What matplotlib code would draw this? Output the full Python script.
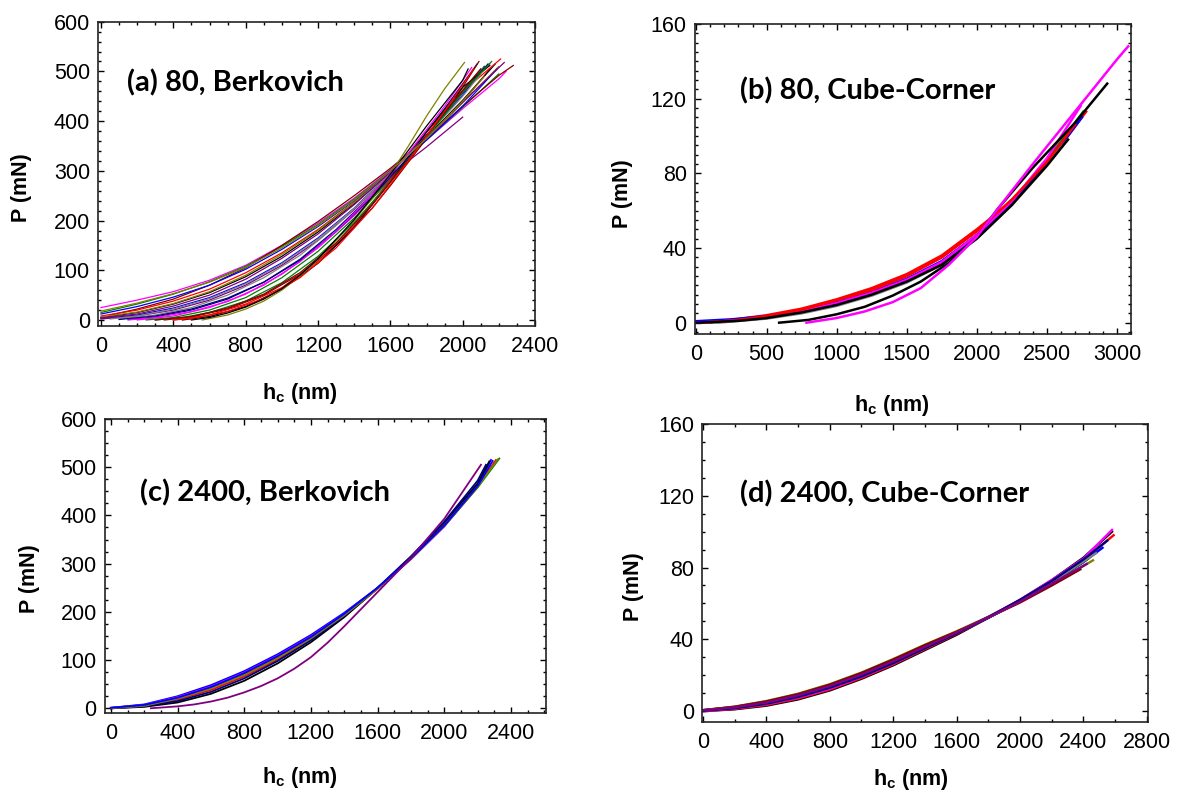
import numpy as np
import matplotlib
matplotlib.use("Agg")
import matplotlib.pyplot as plt
from matplotlib.ticker import MultipleLocator

plt.rcParams['font.family'] = ['Liberation Sans', 'DejaVu Sans']
plt.rcParams['mathtext.fontset'] = 'custom'
plt.rcParams['mathtext.rm'] = 'Liberation Sans'
plt.rcParams['mathtext.bf'] = 'Liberation Sans:bold'

## (a) 80, Berkovich  -- h in nm, P in mN
a_h = [
    [0, 200, 400, 600, 800, 1000, 1200, 1400, 1600, 1800, 2000, 2200, 2240],
    [0, 200, 400, 600, 800, 1000, 1200, 1400, 1600, 1800, 2000, 2200],
    [50, 200, 400, 600, 800, 1000, 1200, 1400, 1600, 1800, 2000, 2200, 2280],
    [0, 200, 400, 600, 800, 1000, 1200, 1400, 1600, 1800, 2000, 2150],
    [0, 200, 400, 600, 800, 1000, 1200, 1400, 1600, 1800, 2000, 2180],
    [0, 200, 400, 600, 800, 1000, 1200, 1400, 1600, 1800, 2000, 2200],
    [0, 200, 400, 600, 800, 1000, 1200, 1400, 1600, 1800, 2000, 2120],
    [0, 200, 400, 600, 800, 1000, 1200, 1400, 1600, 1800, 2000],
    [100, 300, 500, 700, 900, 1100, 1300, 1500, 1700, 1900, 2100],
    [150, 300, 500, 700, 900, 1100, 1300, 1500, 1700, 1900, 2080],
    [200, 400, 600, 800, 1000, 1200, 1400, 1600, 1800, 2000, 2150],
    [250, 400, 600, 800, 1000, 1200, 1400, 1600, 1800, 2000, 2120],
    [350, 500, 700, 900, 1100, 1300, 1500, 1600, 1800, 1950, 2090],
    [400, 600, 800, 1000, 1200, 1400, 1600, 1800, 2000, 2210],
    [450, 600, 800, 1000, 1200, 1400, 1600, 1800, 2000, 2150],
    [560, 700, 800, 900, 1000, 1100, 1200, 1300, 1400, 1500, 1600, 1700, 1800, 1900, 2010],
    [0, 200, 400, 600, 800, 1000, 1200, 1400, 1600, 1800, 2000, 2190],
    [0, 200, 400, 600, 800, 1000, 1200, 1400, 1600, 1800, 2000, 2230],
    [50, 200, 400, 600, 800, 1000, 1200, 1400, 1600, 1800, 2000, 2100],
    [100, 300, 500, 700, 900, 1100, 1300, 1500, 1700, 1900, 2140],
    [150, 300, 500, 700, 900, 1100, 1300, 1500, 1700, 1900, 2050],
    [300, 450, 600, 800, 1000, 1200, 1400, 1600, 1800, 2000, 2160],
    [300, 500, 700, 900, 1100, 1300, 1500, 1700, 1900, 2100],
    [400, 500, 700, 900, 1100, 1300, 1500, 1700, 1900, 2060],
    [500, 600, 700, 800, 900, 1000, 1100, 1200, 1400, 1600, 1800, 2000, 2030],
    [0, 200, 400, 600, 800, 1000, 1200, 1400, 1600, 1800, 2000, 2120],
]
a_P = [
    [25, 40, 57, 80, 110, 150, 195, 245, 302, 362, 425, 485, 500],
    [15, 32, 52, 77, 108, 148, 192, 243, 300, 362, 428, 495],
    [10, 22, 42, 70, 105, 150, 198, 250, 305, 365, 430, 492, 512],
    [8, 20, 38, 62, 95, 135, 182, 237, 298, 365, 438, 505],
    [5, 15, 32, 55, 87, 128, 177, 234, 298, 368, 442, 515],
    [6, 16, 33, 57, 90, 132, 180, 236, 298, 365, 437, 510],
    [3, 10, 24, 45, 75, 115, 165, 225, 295, 372, 452, 510],
    [2, 8, 20, 40, 70, 110, 160, 222, 292, 348, 408],
    [2, 10, 25, 50, 85, 130, 190, 258, 335, 420, 505],
    [1, 6, 20, 42, 76, 122, 182, 252, 333, 425, 515],
    [0, 8, 25, 52, 92, 145, 210, 285, 370, 460, 515],
    [0, 5, 20, 45, 85, 138, 205, 283, 370, 460, 510],
    [0, 6, 22, 50, 92, 150, 225, 270, 365, 440, 520],
    [0, 10, 32, 65, 118, 190, 282, 378, 460, 525],
    [0, 7, 27, 62, 114, 186, 278, 378, 468, 512],
    [0, 10, 22, 38, 60, 88, 122, 160, 200, 245, 293, 350, 410, 465, 518],
    [12, 27, 46, 70, 102, 142, 188, 240, 300, 362, 430, 505],
    [4, 12, 28, 50, 82, 124, 173, 232, 297, 366, 438, 518],
    [2, 8, 22, 43, 73, 113, 163, 224, 294, 370, 450, 495],
    [1, 8, 22, 44, 76, 120, 178, 248, 327, 415, 515],
    [0, 5, 17, 37, 70, 117, 178, 252, 336, 430, 508],
    [0, 5, 15, 38, 75, 128, 196, 278, 368, 458, 520],
    [0, 7, 24, 52, 95, 155, 232, 322, 418, 505],
    [0, 3, 17, 43, 85, 145, 225, 320, 420, 505],
    [0, 5, 14, 26, 42, 63, 90, 123, 202, 293, 390, 482, 505],
    [18, 34, 53, 76, 106, 145, 190, 241, 300, 365, 440, 490],
]

## (b) 80, Cube-Corner
b_h = [
    [0, 250, 500, 750, 1000, 1250, 1500, 1750, 2000, 2200, 2360],
    [0, 250, 500, 750, 1000, 1250, 1500, 1750, 2000, 2250, 2500, 2780],
    [0, 250, 500, 750, 1000, 1250, 1500, 1750, 2000, 2250, 2500, 2750],
    [100, 250, 500, 750, 1000, 1250, 1500, 1750, 2000, 2250, 2500, 2760],
    [150, 500, 750, 1000, 1250, 1500, 1750, 2000, 2250, 2500, 2650],
    [0, 250, 500, 750, 1000, 1250, 1500, 1750, 2000, 2250, 2480],
    [0, 250, 500, 750, 1000, 1250, 1500, 1750, 2000, 2250, 2500, 2740],
    [50, 300, 500, 750, 1000, 1250, 1500, 1750, 2000, 2250, 2500, 2700],
    [0, 300, 500, 750, 1000, 1250, 1500, 1750, 2000, 2250, 2500, 2650],
    [590, 800, 1000, 1200, 1400, 1600, 1800, 2000, 2150, 2400, 2700, 2930],
    [785, 1000, 1200, 1400, 1600, 1800, 2000, 2150, 2400, 2700, 3000, 3080],
]
b_P = [
    [0, 1.5, 4, 7.5, 12.5, 18.5, 26, 36, 50, 62, 73],
    [0, 1.2, 3.5, 7, 12, 17.5, 25, 35, 49, 65, 85, 113],
    [0.8, 1.8, 3.5, 6.5, 11, 16.5, 23.5, 33, 47, 64, 85, 110],
    [0, 0.8, 2.5, 5.5, 9.5, 15, 22, 31.5, 46, 64, 87, 113],
    [0, 2.2, 5, 9, 14.5, 21.5, 31, 45, 63, 86, 98],
    [0, 1.2, 3, 6, 10.5, 16, 23, 32.5, 46.5, 64, 84],
    [0, 1, 3, 6, 10.5, 16, 23, 32.5, 47, 65, 88, 116],
    [0, 1.5, 3.5, 7, 12, 17.5, 25, 35, 49, 66, 86, 106],
    [0, 1, 2.5, 5.5, 9.5, 15, 22, 31, 45, 63, 84, 98],
    [0, 1.5, 4.5, 8.5, 14.5, 22, 32, 46, 61, 83, 107, 128],
    [0, 2.5, 6, 11, 18.5, 31, 46, 61, 85, 113, 141, 148],
]

## (c) 2400, Berkovich
c_h = [
    [0, 200, 400, 600, 800, 1000, 1200, 1400, 1600, 1800, 2000, 2200, 2280],
    [0, 200, 400, 600, 800, 1000, 1200, 1400, 1600, 1800, 2000, 2200, 2300],
    [0, 200, 400, 600, 800, 1000, 1200, 1400, 1600, 1800, 2000, 2200, 2330],
    [0, 200, 400, 600, 800, 1000, 1200, 1400, 1600, 1800, 2000, 2200, 2310],
    [0, 200, 400, 600, 800, 1000, 1200, 1400, 1600, 1800, 2000, 2200, 2270],
    [0, 200, 400, 600, 800, 1000, 1200, 1400, 1600, 1800, 2000, 2200, 2250],
    [0, 200, 400, 600, 800, 1000, 1200, 1400, 1600, 1800, 2000, 2200, 2320],
    [0, 200, 400, 600, 800, 1000, 1200, 1400, 1600, 1800, 2000, 2200, 2290],
    [240, 400, 500, 600, 700, 800, 900, 1000, 1100, 1200, 1300, 1400, 1600, 1800, 2000, 2220],
]
c_P = [
    [1, 8, 25, 48, 77, 112, 152, 198, 250, 310, 378, 462, 515],
    [1, 7, 23, 45, 74, 109, 149, 196, 249, 309, 377, 459, 510],
    [1, 6, 21, 42, 71, 106, 147, 195, 249, 310, 378, 458, 518],
    [0, 5, 18, 38, 66, 101, 143, 192, 248, 311, 380, 461, 515],
    [0, 3, 12, 30, 57, 93, 137, 189, 249, 314, 385, 466, 512],
    [0, 4, 15, 34, 62, 98, 141, 191, 250, 315, 387, 472, 505],
    [0, 5, 20, 41, 69, 104, 145, 193, 248, 310, 379, 460, 516],
    [1, 7, 22, 44, 73, 108, 148, 196, 250, 311, 379, 461, 513],
    [0, 4, 8, 14, 22, 33, 46, 62, 82, 106, 136, 170, 241, 312, 393, 505],
]

## (d) 2400, Cube-Corner
d_h = [
    [0, 200, 400, 600, 800, 1000, 1200, 1400, 1600, 1800, 2000, 2200, 2400, 2580],
    [0, 200, 400, 600, 800, 1000, 1200, 1400, 1600, 1800, 2000, 2200, 2400, 2590],
    [0, 200, 400, 600, 800, 1000, 1200, 1400, 1600, 1800, 2000, 2200, 2400, 2580],
    [0, 200, 400, 600, 800, 1000, 1200, 1400, 1600, 1800, 2000, 2200, 2400, 2520],
    [0, 200, 400, 600, 800, 1000, 1200, 1400, 1600, 1800, 2000, 2200, 2430],
    [0, 200, 400, 600, 800, 1000, 1200, 1400, 1600, 1800, 2000, 2200, 2460],
    [0, 200, 400, 600, 800, 1000, 1200, 1400, 1600, 1800, 2000, 2200, 2380],
    [0, 200, 400, 600, 800, 1000, 1200, 1400, 1600, 1800, 2000, 2200, 2400, 2480],
    [0, 200, 400, 600, 800, 1000, 1200, 1400, 1600, 1800, 2000, 2200, 2400, 2550],
    [0, 200, 400, 600, 800, 1000, 1200, 1400, 1600, 1800, 2000, 2200, 2420],
]
d_P = [
    [0, 1, 3, 6.5, 11.5, 18, 25.5, 34, 42.5, 52, 62, 73, 85.5, 100],
    [0, 1.2, 3.4, 7, 12, 18.5, 26, 34.5, 43, 52, 61.5, 72, 84, 98],
    [0, 1.5, 3.9, 7.5, 12.5, 19, 26.5, 35, 43.5, 52.5, 62, 73, 85, 101],
    [0.5, 2, 4.6, 8.5, 13.8, 20, 27.5, 35.5, 43.5, 52, 61, 71.5, 83, 91],
    [0.5, 2.3, 5.1, 9.2, 14.5, 21, 28.5, 36.5, 44, 52.5, 61.5, 71.5, 85],
    [0.5, 2.5, 5.6, 9.7, 15, 21.5, 29, 37, 44.5, 52.5, 61, 70.5, 84],
    [0.5, 2.4, 5.4, 9.4, 14.7, 21.2, 28.7, 36.7, 44.2, 52.2, 60.5, 70, 79],
    [0.3, 1.8, 4.3, 8.2, 13.3, 19.6, 27, 35.2, 43.5, 52.2, 61.3, 71.8, 83.5, 88],
    [0.2, 1.6, 4.1, 7.9, 13, 19.3, 26.7, 35, 43.3, 52.3, 62, 72.5, 84.5, 95],
    [0.4, 2.1, 4.8, 8.8, 14, 20.4, 27.8, 35.8, 43.8, 52.3, 61, 71, 82],
]

titles = ['(a) 80, Berkovich', '(b) 80, Cube-Corner',
          '(c) 2400, Berkovich', '(d) 2400, Cube-Corner']

colors = ['#ff00ff', '#008000', '#800000', '#ff0000', '#000000', '#808000',
          '#0000ff', '#800080', '#808080', '#000080']
colors_b = ['#ff0000', '#ff0000', '#0000ff', '#008000', '#808080', '#0000ff',
            '#ff00ff', '#ff0000', '#000000', '#000000', '#ff00ff']
colors_c = ['#0000ff', '#ff00ff', '#008000', '#ff0000', '#000000', '#000080',
            '#808000', '#0000ff', '#800080']
colors_d = ['#000000', '#ff0000', '#ff00ff', '#0000ff', '#008000', '#808000',
            '#800000', '#808080', '#000080', '#800080']

fig = plt.figure(figsize=(11.8, 7.95), dpi=100)
# axes boxes [left, bottom, width, height] in figure fractions
boxes = [[0.0833, 0.590, 0.3701, 0.3827],
         [0.589, 0.580, 0.3695, 0.390],
         [0.089, 0.103, 0.3737, 0.370],
         [0.5953, 0.092, 0.378, 0.3747]]
axes = [fig.add_axes(b) for b in boxes]

panels = [(a_h, a_P, colors, 0.9), (b_h, b_P, colors_b, 1.8),
          (c_h, c_P, colors_c, 1.3), (d_h, d_P, colors_d, 1.7)]
for ax, (hs, Ps, cols, lw) in zip(axes, panels):
    for i, (h, P) in enumerate(zip(hs, Ps)):
        ax.plot(h, P, c=cols[i % len(cols)], lw=lw)

lims = [((-15, 2400), (-12, 600), 400, 100, 100, 20),
        ((-10, 3100), (-6, 160), 500, 100, 40, 5),
        ((-35, 2610), (-10, 600), 400, 100, 100, 25),
        ((-3, 2810), (-6, 160), 400, 200, 40, 10)]
for ax, (xl, yl, xM, xm, yM, ym) in zip(axes, lims):
    ax.set_xlim(*xl)
    ax.set_ylim(*yl)
    ax.xaxis.set_major_locator(MultipleLocator(xM))
    ax.xaxis.set_minor_locator(MultipleLocator(xm))
    ax.yaxis.set_major_locator(MultipleLocator(yM))
    ax.yaxis.set_minor_locator(MultipleLocator(ym))
    ax.tick_params(which='both', direction='in', top=True, right=True,
                   labelsize=15.5, width=1.0)
    ax.tick_params(which='major', length=4.5)
    ax.tick_params(which='minor', length=2.5)
    ax.tick_params(axis='x', pad=7)
    ax.tick_params(axis='y', pad=6)
    for s in ax.spines.values():
        s.set_linewidth(1.2)
        s.set_color('#222222')

title_pos = [(0.066, 0.80), (0.103, 0.785), (0.080, 0.748), (0.084, 0.765)]
for ax, t, (tx, ty) in zip(axes, titles, title_pos):
    ax.text(tx, ty, t, transform=ax.transAxes, fontsize=21, fontweight='bold',
            family=['Lato', 'DejaVu Sans'], va='center', ha='left')

ylab_pos = [(21, 188), (623, 194), (30, 579), (634, 587)]
for x, y in ylab_pos:
    fig.text(x / 1180, 1 - y / 795, 'P (mN)', rotation=90, fontsize=15.5,
             fontweight='bold', ha='center', va='center')

xlab_pos = [(300, 394), (892, 405), (300, 778), (911, 780)]
for x, y in xlab_pos:
    fig.text(x / 1180, 1 - y / 795, r'h$_\mathbf{c}$ (nm)', fontsize=15.5,
             fontweight='bold', ha='center', va='center')

fig.savefig('out.png', dpi=100)
